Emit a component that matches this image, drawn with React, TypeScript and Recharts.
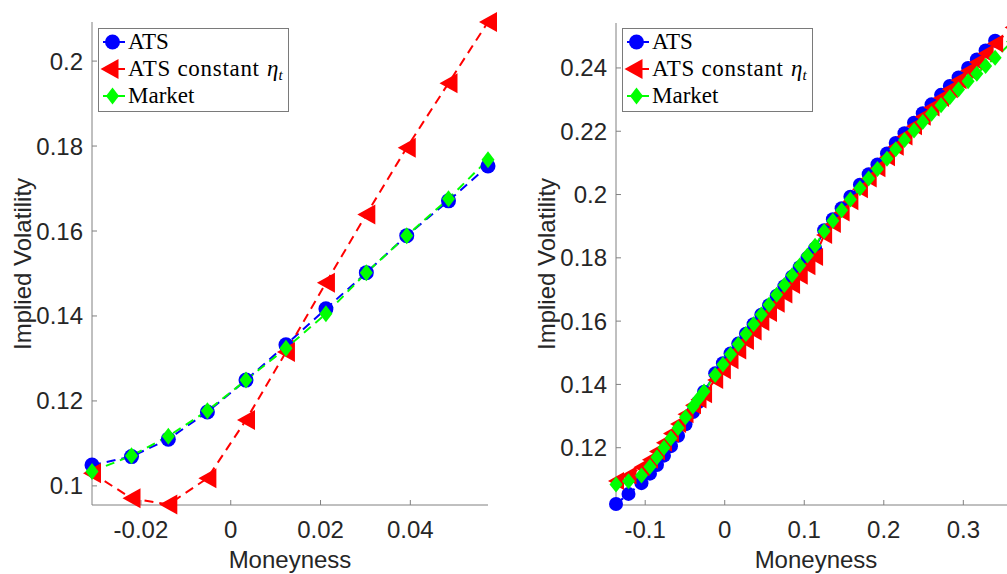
import { LineChart, Line, XAxis, YAxis } from 'recharts';

// left panel: one maturity
const leftX = [-0.0309, -0.0221, -0.0139, -0.0052, 0.0034, 0.0123, 0.0212, 0.0302, 0.0392, 0.0485, 0.0573];
const leftATS = [0.1049, 0.1069, 0.111, 0.1174, 0.1249, 0.1332, 0.1417, 0.1502, 0.1589, 0.1671, 0.1753];
const leftConst = [0.103, 0.0971, 0.0956, 0.1018, 0.1155, 0.1315, 0.1478, 0.1639, 0.1796, 0.1948, 0.2092];
const leftMarket = [0.1034, 0.1071, 0.1117, 0.1177, 0.1249, 0.1324, 0.1405, 0.1502, 0.1589, 0.1676, 0.1768];

// right panel: all maturities pooled
const rightX = [
  -0.1367, -0.121, -0.1047, -0.094, -0.0852, -0.0764, -0.0676, -0.0587, -0.0493, -0.0399, -0.033, -0.026,
  -0.012, -0.0023, 0.0073, 0.017, 0.0267, 0.0363, 0.046, 0.0557, 0.0653, 0.075, 0.0847, 0.0943, 0.104, 0.1136,
  0.125, 0.136, 0.147, 0.158, 0.17, 0.181, 0.192, 0.204, 0.215, 0.226, 0.238, 0.249, 0.26, 0.272, 0.283, 0.294,
  0.306, 0.317, 0.328, 0.34,
];
const rightATS = [
  0.1022, 0.1054, 0.1088, 0.1118, 0.1145, 0.1175, 0.1205, 0.1238, 0.1274, 0.1313, 0.1344, 0.1377,
  0.1435, 0.1467, 0.1498, 0.1529, 0.156, 0.159, 0.162, 0.165, 0.168, 0.171, 0.174, 0.177, 0.18, 0.183,
  0.1887, 0.1922, 0.1957, 0.1993, 0.2031, 0.2064, 0.2095, 0.213, 0.2163, 0.2194, 0.2227, 0.2257, 0.2285, 0.2315,
  0.2343, 0.237, 0.24, 0.2427, 0.2455, 0.2486,
];
const rightConst = [
  0.1095, 0.1112, 0.1138, 0.1162, 0.1188, 0.1216, 0.1245, 0.1275, 0.1306, 0.1334, 0.1352, 0.1369,
  0.1414, 0.1445, 0.1476, 0.1507, 0.1537, 0.1567, 0.1597, 0.1626, 0.1655, 0.1684, 0.1714, 0.1743, 0.1773, 0.1803,
  0.1872, 0.1907, 0.1943, 0.1979, 0.2017, 0.2051, 0.2083, 0.2118, 0.2151, 0.2183, 0.2216, 0.2246, 0.2275, 0.2305,
  0.2333, 0.2361, 0.2391, 0.2418, 0.2446, 0.2477,
];
const rightMarket = [
  0.1084, 0.1094, 0.1112, 0.114, 0.117, 0.12, 0.123, 0.1262, 0.1296, 0.133, 0.1355, 0.1378,
  0.143, 0.1463, 0.1495, 0.1527, 0.1559, 0.159, 0.1621, 0.1652, 0.1683, 0.1714, 0.1745, 0.1776, 0.1807, 0.1838,
  0.1884, 0.1917, 0.195, 0.1984, 0.202, 0.2051, 0.2081, 0.2113, 0.2143, 0.2172, 0.2202, 0.2229, 0.2255, 0.2282,
  0.2307, 0.2332, 0.2358, 0.2382, 0.2406, 0.2432,
];
// one more strike, just past the right edge of the figure
const rightEdgeX = 0.362;
const rightEdgeConst = 0.2528;
const rightEdgeMarket = 0.2484;

const leftXTicks = [-0.02, 0, 0.02, 0.04];
const leftYTicks = [0.1, 0.12, 0.14, 0.16, 0.18, 0.2];
const rightXTicks = [-0.1, 0, 0.1, 0.2, 0.3];
const rightYTicks = [0.12, 0.14, 0.16, 0.18, 0.2, 0.22, 0.24];

const BLUE = '#0000ff';
const RED = '#ff0000';
const GREEN = '#00ff00';
const AXIS = '#808080';
const TEXT = '#262626';
const SANS = '"Liberation Sans", Arial, Helvetica, sans-serif';
const SERIF = '"Liberation Serif", "Times New Roman", serif';

const toPoints = (xs: number[], ys: number[]) => xs.map((x, i) => ({ x, y: ys[i] }));
const fmt = (v: number) => String(parseFloat(v.toFixed(4)));

type Sizes = { r: number; triW: number; triH: number; diaW: number; diaH: number };
const bigMarks: Sizes = { r: 7.5, triW: 18, triH: 20, diaW: 13, diaH: 17 };
const smallMarks: Sizes = { r: 7, triW: 16, triH: 18, diaW: 13, diaH: 16 };

const triPts = (cx: number, cy: number, w: number, h: number) =>
  `${cx - w / 2},${cy} ${cx + w / 2},${cy - h / 2} ${cx + w / 2},${cy + h / 2}`;
const diaPts = (cx: number, cy: number, w: number, h: number) =>
  `${cx},${cy - h / 2} ${cx + w / 2},${cy} ${cx},${cy + h / 2} ${cx - w / 2},${cy}`;

const circleDot = (s: Sizes) => (p: any) =>
  p.cx == null || p.cy == null ? <g key={`c${p.index}`} /> : <circle key={`c${p.index}`} cx={p.cx} cy={p.cy} r={s.r} fill={BLUE} />;
const triDot = (s: Sizes) => (p: any) =>
  p.cx == null || p.cy == null ? <g key={`t${p.index}`} /> : <polygon key={`t${p.index}`} points={triPts(p.cx, p.cy, s.triW, s.triH)} fill={RED} />;
const diaDot = (s: Sizes) => (p: any) =>
  p.cx == null || p.cy == null ? <g key={`d${p.index}`} /> : <polygon key={`d${p.index}`} points={diaPts(p.cx, p.cy, s.diaW, s.diaH)} fill={GREEN} />;

const tickStyle = { fill: TEXT, fontSize: 24, fontFamily: SANS };

function Panel(props: {
  left: number;
  width: number;
  yAxisWidth: number;
  marginTop: number;
  marginRight: number;
  xDomain: number[];
  yDomain: number[];
  xTicks: number[];
  yTicks: number[];
  ats: { x: number; y: number }[];
  constant: { x: number; y: number }[];
  market: { x: number; y: number }[];
  marks: Sizes;
}) {
  const { marks } = props;
  return (
    <div style={{ position: 'absolute', left: props.left, top: 0 }}>
      <LineChart
        width={props.width}
        height={574}
        margin={{ top: props.marginTop, right: props.marginRight, bottom: 0, left: 0 }}
      >
        <XAxis
          type="number"
          dataKey="x"
          domain={props.xDomain}
          ticks={props.xTicks}
          interval={0}
          tickFormatter={fmt}
          height={69}
          axisLine={{ stroke: AXIS }}
          tickLine={{ stroke: AXIS }}
          tickSize={-5}
          tickMargin={21}
          tick={tickStyle}
        />
        <YAxis
          type="number"
          domain={props.yDomain}
          ticks={props.yTicks}
          interval={0}
          tickFormatter={fmt}
          width={props.yAxisWidth}
          axisLine={{ stroke: AXIS }}
          tickLine={{ stroke: AXIS }}
          tickSize={-5}
          tickMargin={14}
          tick={tickStyle}
        />
        <Line
          data={props.ats}
          dataKey="y"
          stroke={BLUE}
          strokeWidth={2}
          strokeDasharray="9 6"
          dot={circleDot(marks)}
          activeDot={false}
          isAnimationActive={false}
        />
        <Line
          data={props.constant}
          dataKey="y"
          stroke={RED}
          strokeWidth={2}
          strokeDasharray="9 6"
          dot={triDot(marks)}
          activeDot={false}
          isAnimationActive={false}
        />
        <Line
          data={props.market}
          dataKey="y"
          stroke={GREEN}
          strokeWidth={2}
          strokeDasharray="9 6"
          dot={diaDot(marks)}
          activeDot={false}
          isAnimationActive={false}
        />
      </LineChart>
    </div>
  );
}

function LegendBox({ x, y }: { x: number; y: number }) {
  const s = bigMarks;
  const rows = [42 - 28, 69 - 28, 96 - 28];
  const mx = 14.5;
  return (
    <g transform={`translate(${x},${y})`}>
      <rect x={0.5} y={0.5} width={190} height={83} fill="#fff" stroke="#7a7a7a" strokeWidth={1} />
      <line x1={2} x2={27} y1={rows[0]} y2={rows[0]} stroke={BLUE} strokeWidth={2} strokeDasharray="9 6" strokeDashoffset={-3} />
      <circle cx={mx} cy={rows[0]} r={s.r} fill={BLUE} />
      <line x1={2} x2={27} y1={rows[1]} y2={rows[1]} stroke={RED} strokeWidth={2} strokeDasharray="9 6" strokeDashoffset={-3} />
      <polygon points={triPts(mx - 3, rows[1], s.triW, s.triH)} fill={RED} />
      <line x1={2} x2={27} y1={rows[2]} y2={rows[2]} stroke={GREEN} strokeWidth={2} strokeDasharray="9 6" strokeDashoffset={-3} />
      <polygon points={diaPts(mx, rows[2], s.diaW, s.diaH)} fill={GREEN} />
      <g fontFamily={SERIF} fontSize={23} fill="#000">
        <text x={30} y={rows[0] + 7}>ATS</text>
        <text x={30} y={rows[1] + 7}>
          <tspan textLength={131} lengthAdjust="spacing">ATS constant</tspan>
          <tspan x={169} fontStyle="italic">η</tspan>
          <tspan fontStyle="italic" fontSize={15} dy={4}>t</tspan>
        </text>
        <text x={30} y={rows[2] + 7}>Market</text>
      </g>
    </g>
  );
}

export default function App() {
  const lAts = toPoints(leftX, leftATS);
  const lConst = toPoints(leftX, leftConst);
  const lMarket = toPoints(leftX, leftMarket);
  const rAts = toPoints(rightX, rightATS);
  const rConst = [...toPoints(rightX, rightConst), { x: rightEdgeX, y: rightEdgeConst }];
  const rMarket = [...toPoints(rightX, rightMarket), { x: rightEdgeX, y: rightEdgeMarket }];

  return (
    <div
      style={{
        position: 'fixed',
        left: 0,
        top: 0,
        width: 1007,
        height: 574,
        overflow: 'hidden',
        background: '#fff',
      }}
    >
      <Panel
        left={0}
        width={500}
        yAxisWidth={92}
        marginTop={22}
        marginRight={12}
        xDomain={[-0.0309, 0.0573]}
        yDomain={[0.0955, 0.2092]}
        xTicks={leftXTicks}
        yTicks={leftYTicks}
        ats={lAts}
        constant={lConst}
        market={lMarket}
        marks={bigMarks}
      />
      <Panel
        left={500}
        width={530}
        yAxisWidth={116}
        marginTop={23}
        marginRight={11}
        xDomain={[-0.1367, 0.37]}
        yDomain={[0.1019, 0.2542]}
        xTicks={rightXTicks}
        yTicks={rightYTicks}
        ats={rAts}
        constant={rConst}
        market={rMarket}
        marks={smallMarks}
      />
      <svg
        width={1007}
        height={574}
        style={{ position: 'absolute', left: 0, top: 0, pointerEvents: 'none' }}
      >
        <g fontFamily={SANS} fontSize={24} fill={TEXT} textAnchor="middle">
          <text x={290} y={568}>Moneyness</text>
          <text x={816} y={568}>Moneyness</text>
          <text transform="translate(31,264) rotate(-90)">Implied Volatility</text>
          <text transform="translate(555,264) rotate(-90)">Implied Volatility</text>
        </g>
        <LegendBox x={98} y={28} />
        <LegendBox x={622} y={28} />
      </svg>
    </div>
  );
}
